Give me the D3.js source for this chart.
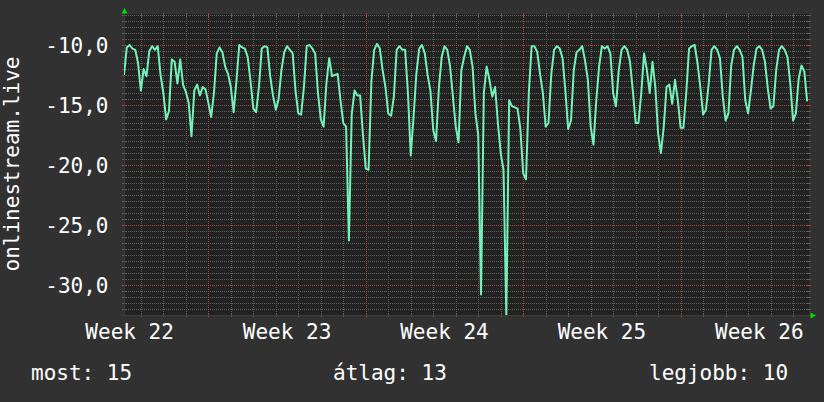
<!DOCTYPE html>
<html>
<head>
<meta charset="utf-8">
<script src="https://cdn.jsdelivr.net/npm/d3@7"></script>
<style>
  html, body { margin: 0; padding: 0; background: #313131; }
  svg { display: block; }
  text { font-family: 'DejaVu Sans Mono', monospace; fill: #ffffff; }
</style>
</head>
<body>
<div id="chart"></div>
<script>
const width = 824;
const height = 402;
const plot = { left: 124, right: 809, top: 15, bottom: 315 };

// Series: one value every 3 hours, starting 2021-06-03 06:00 UTC
const seriesStart = Date.UTC(2021, 5, 3, 6);
const seriesEnd = Date.UTC(2021, 6, 3, 17);
const stepHours = 3;
const values = [
  -12.5, -10.2, -10.0, -10.3, -10.4, -11.5, -13.8, -12.0, -12.6, -10.5,
  -10.1, -10.4, -10.1, -12.5, -14.0, -16.2, -15.5, -11.2, -11.4, -13.2,
  -11.2, -13.3, -13.9, -14.8, -17.6, -13.8, -13.3, -14.2, -13.5, -13.7,
  -14.8, -16.0, -14.0, -10.7, -10.2, -10.6, -11.8, -12.4, -13.5, -15.6,
  -13.0, -10.0, -10.2, -10.3, -11.0, -13.0, -15.3, -15.6, -13.5, -10.3,
  -10.1, -10.2, -12.6, -14.2, -15.4, -14.5, -12.1, -10.6, -10.1, -10.4,
  -10.7, -13.8, -15.7, -15.8, -13.5, -10.1, -10.0, -10.3, -10.7, -14.0,
  -16.2, -16.8, -13.2, -11.1, -12.6, -12.5, -12.4, -14.6, -16.5, -16.8,
  -26.3, -15.8, -13.8, -14.2, -14.2, -17.5, -20.3, -20.4, -13.0, -10.4,
  -9.9, -10.3, -12.1, -13.5, -15.7, -15.9, -14.3, -10.4, -10.1, -10.4,
  -10.4, -14.0, -19.2, -16.0, -12.4, -10.3, -10.0, -10.7, -12.5, -13.8,
  -17.1, -18.0, -13.6, -11.0, -10.1, -10.4, -11.8, -14.3, -16.8, -18.1,
  -12.1, -11.0, -10.1, -10.4, -11.8, -15.7, -17.5, -30.8, -14.0, -11.8,
  -12.9, -14.3, -13.5, -16.5, -19.0, -20.4, -32.5, -14.6, -15.1, -15.2,
  -15.3, -17.0, -20.7, -21.2, -14.0, -10.1, -10.1, -10.6, -12.4, -14.0,
  -16.8, -16.5, -12.4, -10.4, -10.1, -10.3, -11.1, -13.8, -17.0, -16.3,
  -12.1, -10.6, -10.4, -10.1, -11.3, -12.9, -16.8, -18.3, -14.6, -11.8,
  -10.1, -10.3, -10.1, -10.7, -14.0, -15.1, -12.1, -10.4, -10.1, -10.4,
  -11.4, -13.8, -16.5, -16.5, -14.0, -10.7, -12.1, -14.0, -11.4, -13.5,
  -17.4, -19.0, -16.8, -13.5, -13.3, -14.9, -12.9, -14.6, -16.9, -16.9,
  -14.0, -10.3, -10.1, -10.0, -11.5, -13.5, -15.8, -15.4, -13.2, -10.4,
  -10.1, -10.4, -11.1, -14.3, -16.3, -15.7, -11.7, -10.4, -10.1, -10.4,
  -11.0, -14.6, -15.7, -13.8, -11.7, -10.3, -10.1, -10.4, -11.4, -13.6,
  -15.3, -15.1, -12.1, -10.4, -10.1, -10.4, -11.0, -13.2, -16.3, -15.7,
  -12.8, -11.7, -12.2, -14.7
];
const yDomain = [-32.5, -7.5];
const yTitle = 'onlinestream.live';
const legendLabels = ['most: 15', 'átlag: 13', 'legjobb: 10'];
const legendX = [31, 333, 649];

const points = values.map((v, i) => ({
  t: new Date(seriesStart + i * stepHours * 3600e3),
  v,
}));

const x = d3
  .scaleUtc()
  .domain([new Date(seriesStart), new Date(seriesEnd)])
  .range([plot.left, plot.right]);
const y = d3.scaleLinear().domain(yDomain).range([plot.bottom, plot.top]);

const locale = d3.formatLocale({
  decimal: ',',
  thousands: ' ',
  grouping: [3],
  currency: ['', ''],
  minus: '-',
});
const yFormat = locale.format('.1f');
const weekFormat = d3.utcFormat('Week %V');

const svg = d3
  .select('#chart')
  .append('svg')
  .attr('width', width)
  .attr('height', height);

svg.append('rect').attr('width', width).attr('height', height).attr('fill', '#313131');

svg
  .append('rect')
  .attr('x', plot.left)
  .attr('y', plot.top - 1)
  .attr('width', plot.right - plot.left)
  .attr('height', plot.bottom - plot.top + 1)
  .attr('fill', '#222222');

const minorColor = '#5e5e5e';
const majorColor = '#a84444';
const px = (v) => Math.round(v) + 0.5;

// Grid lines (dotted) with small solid ticks at the ends
const grid = svg.append('g').attr('shape-rendering', 'crispEdges');
const yMinor = y.ticks(50);
const yMajor = y.ticks(5).map(Number);
const isMajorY = (v) => yMajor.some((m) => Math.abs(m - v) < 1e-6);

yMinor.forEach((v) => {
  const yy = px(y(v));
  const c = isMajorY(v) ? majorColor : minorColor;
  grid.append('line')
    .attr('x1', plot.left).attr('x2', plot.right)
    .attr('y1', yy).attr('y2', yy)
    .attr('stroke', c).attr('stroke-dasharray', '1,1');
  grid.append('line')
    .attr('x1', plot.left - 2).attr('x2', plot.left + 2)
    .attr('y1', yy).attr('y2', yy).attr('stroke', c);
  grid.append('line')
    .attr('x1', plot.right - 2).attr('x2', plot.right + 2)
    .attr('y1', yy).attr('y2', yy).attr('stroke', c);
});

const days = x.ticks(d3.utcDay.every(1));
const mondays = x.ticks(d3.utcMonday.every(1)).map((d) => +d);
days.forEach((d) => {
  const xx = px(x(d));
  const c = mondays.includes(+d) ? majorColor : minorColor;
  grid.append('line')
    .attr('x1', xx).attr('x2', xx)
    .attr('y1', plot.top).attr('y2', plot.bottom)
    .attr('stroke', c).attr('stroke-dasharray', '1,1');
  grid.append('line')
    .attr('x1', xx).attr('x2', xx)
    .attr('y1', plot.top - 2).attr('y2', plot.top + 2).attr('stroke', c);
  grid.append('line')
    .attr('x1', xx).attr('x2', xx)
    .attr('y1', plot.bottom - 2).attr('y2', plot.bottom + 2).attr('stroke', c);
});

// Axes + arrows
svg.append('line')
  .attr('x1', plot.left + 0.5).attr('x2', plot.left + 0.5)
  .attr('y1', plot.bottom + 2).attr('y2', plot.top - 4)
  .attr('stroke', '#3c3c3c');
svg.append('line')
  .attr('x1', plot.left - 2).attr('x2', plot.right + 4)
  .attr('y1', plot.bottom + 0.5).attr('y2', plot.bottom + 0.5)
  .attr('stroke', '#3c3c3c');
svg.append('path')
  .attr('d', `M${plot.left + 0.5},${plot.top - 7} L${plot.left - 2.5},${plot.top - 1.5} L${plot.left + 3.5},${plot.top - 1.5} Z`)
  .attr('fill', '#00dd00');
svg.append('path')
  .attr('d', `M${plot.right + 7},${plot.bottom + 0.5} L${plot.right + 1.5},${plot.bottom - 2.5} L${plot.right + 1.5},${plot.bottom + 3.5} Z`)
  .attr('fill', '#00dd00');

// Data line
svg.append('clipPath').attr('id', 'clip')
  .append('rect')
  .attr('x', plot.left).attr('y', plot.top - 1)
  .attr('width', plot.right - plot.left)
  .attr('height', plot.bottom - plot.top + 1);

const line = d3.line().x((d) => x(d.t)).y((d) => y(d.v));
svg.append('path')
  .datum(points)
  .attr('clip-path', 'url(#clip)')
  .attr('fill', 'none')
  .attr('stroke', '#74f2b8')
  .attr('stroke-width', 2)
  .attr('stroke-linejoin', 'round')
  .attr('d', line);

// Y tick labels
svg.selectAll('.ylab')
  .data(yMajor)
  .enter()
  .append('text')
  .attr('class', 'ylab')
  .attr('x', 108.5)
  .attr('y', (d) => y(d) + 7.6)
  .attr('text-anchor', 'end')
  .style('font-size', '21px')
  .text((d) => yFormat(d));

// Week labels, centred in each week
const weeks = d3.utcMonday.range(d3.utcMonday.floor(new Date(seriesStart)), new Date(seriesEnd));
svg.selectAll('.xlab')
  .data(weeks)
  .enter()
  .append('text')
  .attr('class', 'xlab')
  .attr('x', (d) => x(new Date(+d + 3.5 * 864e5)))
  .attr('y', 339.3)
  .attr('text-anchor', 'middle')
  .style('font-size', '21px')
  .text((d) => weekFormat(d));

// Y title
svg.append('text')
  .attr('transform', `translate(19,164) rotate(-90)`)
  .attr('text-anchor', 'middle')
  .style('font-size', '21px')
  .text(yTitle);

// Legend
svg.selectAll('.legend')
  .data(legendLabels)
  .enter()
  .append('text')
  .attr('class', 'legend')
  .attr('x', (_, i) => legendX[i])
  .attr('y', 380)
  .style('font-size', '21px')
  .text((d) => d);
</script>
</body>
</html>
